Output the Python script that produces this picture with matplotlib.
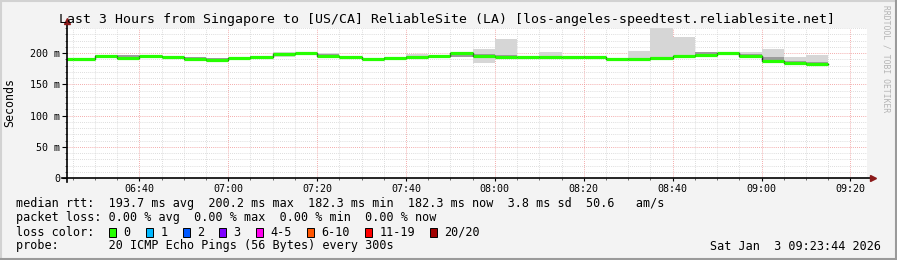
import numpy as np
import matplotlib.pyplot as plt
from matplotlib.lines import Line2D
from matplotlib.patches import Rectangle

# Данные: шаги по 5 минут, начиная с 06:20 (минуты от полуночи)
step_start = 6 * 60 + 20
step_len = 5
median_ms = [191, 191, 195, 192, 195, 194, 191, 189.5, 191.5, 194, 198, 199.5,
             196, 193, 191, 191.5, 194, 195.5, 199.5, 195.5, 194, 194, 194, 194,
             193, 191, 191, 192.5, 194.5, 197.5, 200.2, 194.5, 186.5, 184, 182.3]
smoke_lo = [191, 191, 193, 192, 194, 193, 191, 189, 191, 194, 193, 199,
            195, 192, 190, 191, 194, 195, 193, 184.5, 194, 194, 194, 194,
            193, 191, 191, 192, 194, 195, 200, 194, 187, 184, 181]
smoke_hi = [191, 191, 197, 197, 196, 195, 194, 192, 193, 195, 201, 200.5,
            200, 196, 192, 194, 198, 196, 200, 206.5, 222, 194, 201, 194,
            195, 191, 203.5, 250, 226, 201.5, 200.5, 201, 206, 193, 196.5]
dark_lo = [191, 191, 194, 193, 194, 193, 191, 189, 191, 194, 197, 199,
           196, 192, 190, 191, 194, 195, 193, 194, 194, 194, 194, 194,
           193, 191, 191, 192, 194, 196, 200, 195, 187, 184, 182]
dark_hi = [191, 191, 197, 197, 196, 195, 193.5, 192, 192.5, 195, 200, 200,
           199, 194, 191.5, 194, 195, 196, 199.5, 198, 197, 194, 195, 194,
           195, 191, 192, 194, 196, 201, 200.5, 199, 194, 188, 186]

x_start = 6 * 60 + 23 + 44 / 60   # 06:23:44
x_end = x_start + 180              # 09:23:44
major_ticks = [400, 420, 440, 460, 480, 500, 520, 540, 560]
tick_labels = ['06:40', '07:00', '07:20', '07:40', '08:00', '08:20', '08:40', '09:00', '09:20']
y_ticks = [0, 50, 100, 150, 200]
y_labels = ['0', '50 m', '100 m', '150 m', '200 m']

loss_labels = ['0', '1', '2', '3', '4-5', '6-10', '11-19', '20/20']
loss_colors = ['#26ff00', '#00b8ff', '#0059ff', '#7e00ff', '#ff00ee', '#ff5500', '#ff0000', '#a00000']

title = 'Last 3 Hours from Singapore to [US/CA] ReliableSite (LA) [los-angeles-speedtest.reliablesite.net]'
legend_rows = [
    'median rtt:  193.7 ms avg  200.2 ms max  182.3 ms min  182.3 ms now  3.8 ms sd  50.6   am/s',
    'packet loss: 0.00 % avg  0.00 % max  0.00 % min  0.00 % now',
    'loss color:',
    'probe:       20 ICMP Echo Pings (56 Bytes) every 300s',
]
date_text = 'Sat Jan  3 09:23:44 2026'

W, H = 897, 260
MONO = 'DejaVu Sans Mono'


def fx(x):
    return x / W


def fy(y):
    return 1 - y / H


fig = plt.figure(figsize=(W / 100, H / 100), dpi=100, facecolor='#f3f3f3')
ax = fig.add_axes([fx(67), fy(178), 800 / W, 150 / H])
ax.set_facecolor('white')

edges = np.arange(step_start, step_start + step_len * (len(median_ms) + 1), step_len)

# дым (разброс пингов)
ax.stairs(smoke_hi, edges, baseline=smoke_lo, fill=True, color='#d6d6d6', zorder=2)
ax.stairs(dark_hi, edges, baseline=dark_lo, fill=True, color='#9c9c9c', zorder=3)
# медиана
ax.step(edges, median_ms + [median_ms[-1]], where='post', color='#202020', lw=1, zorder=4)
ax.hlines(median_ms, edges[:-1], edges[1:], color='#26ff00', lw=2.3, zorder=5)

ax.set_xlim(x_start, x_end)
ax.set_ylim(0, 240)

ax.set_xticks(major_ticks)
ax.set_xticklabels(tick_labels)
ax.set_xticks(np.arange(385, 565, 5), minor=True)
ax.set_yticks(y_ticks)
ax.set_yticklabels(y_labels)
ax.set_yticks(np.arange(0, 241, 10), minor=True)

ax.grid(True, which='minor', color='#d2d2d2', linestyle=(0, (1, 1.5)), lw=0.6, zorder=1)
ax.grid(True, which='major', color='#f09090', linestyle=(0, (1, 1.5)), lw=0.6, zorder=1)
ax.set_axisbelow(True)

ax.tick_params(which='major', direction='out', length=3.5, width=0.8, pad=1.5,
               labelsize=7.2, labelfontfamily=MONO, color='black')
ax.tick_params(which='minor', direction='out', length=1.5, width=0.6, color='#555555')
ax.tick_params(axis='x', which='major', length=2.5, pad=1.5)

for s in ax.spines.values():
    s.set_visible(False)

# оси со стрелками
ax.plot([-5 / 800, 1.005], [0, 0], transform=ax.transAxes, color='black', lw=1.2, clip_on=False, zorder=6)
ax.plot([0, 0], [-4 / 150, 1.045], transform=ax.transAxes, color='black', lw=1.2, clip_on=False, zorder=6)
ax.plot(1.008, 0, marker='>', ms=4.5, color='#8b1a1a', transform=ax.transAxes, clip_on=False, zorder=7)
ax.plot(0, 1.05, marker='^', ms=4.5, color='#8b1a1a', transform=ax.transAxes, clip_on=False, zorder=7)

fig.text(fx(10), fy(103), 'Seconds', rotation=90, ha='center', va='center', family=MONO, fontsize=8.4)
fig.text(fx(447), fy(19), title, ha='center', va='center', family=MONO, fontsize=9.5)
fig.text(fx(886), fy(59), 'RRDTOOL / TOBI OETIKER', rotation=270, ha='center', va='center',
         family=MONO, fontsize=5.8, color='#b4b4b4')

row_y = [204, 218, 232, 246]
for txt, yy in zip(legend_rows, row_y):
    fig.text(fx(16), fy(yy), txt, ha='left', va='center', family=MONO, fontsize=8.5)
fig.text(fx(881), fy(246), date_text, ha='right', va='center', family=MONO, fontsize=8.5)

box_x = [109, 146, 183, 219, 256, 307, 365, 430]
for bx, lab, col in zip(box_x, loss_labels, loss_colors):
    fig.add_artist(Rectangle((fx(bx), fy(236.5)), 7 / W, 9 / H, facecolor=col,
                             edgecolor='black', lw=0.7, transform=fig.transFigure))
    fig.text(fx(bx + 14.5), fy(232), lab, ha='left', va='center', family=MONO, fontsize=8.5)

# рамка картинки
fig.add_artist(Line2D([0, 1], [fy(1), fy(1)], color='#d2d2d2', lw=1.5, transform=fig.transFigure))
fig.add_artist(Line2D([fx(1), fx(1)], [0, 1], color='#d2d2d2', lw=1.5, transform=fig.transFigure))
fig.add_artist(Line2D([0, 1], [fy(259), fy(259)], color='#9a9a9a', lw=1.5, transform=fig.transFigure))
fig.add_artist(Line2D([fx(896), fx(896)], [0, 1], color='#9a9a9a', lw=1.5, transform=fig.transFigure))

fig.savefig('out.png', dpi=100, facecolor=fig.get_facecolor())
